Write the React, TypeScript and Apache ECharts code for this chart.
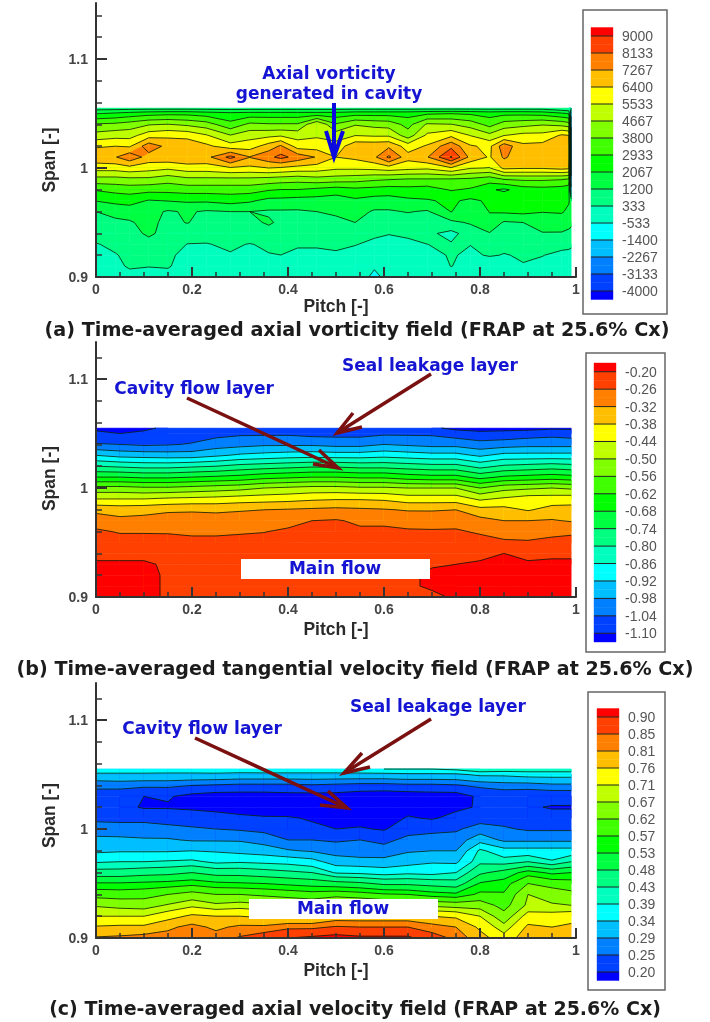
import React, { useEffect, useRef } from "react";
import * as echarts from "echarts";

const spans = [1.055, 1.05, 1.04, 1.03, 1.02, 1.01, 1.0, 0.99, 0.98, 0.97, 0.96, 0.95, 0.94, 0.93, 0.92, 0.91, 0.9];
const palette = ["#0000ff", "#0040ff", "#0080ff", "#00bfff", "#00ffff", "#00ffbf", "#00ff80", "#00ff40", "#00ff00", "#40ff00", "#80ff00", "#bfff00", "#ffff00", "#ffbf00", "#ff8000", "#ff4000", "#ff0000"];
const spanMajorTicks = [0.9, 1, 1.1];
const spanMinorTicks = [0.92, 0.94, 0.96, 0.98, 1.02, 1.04, 1.06, 1.08, 1.12, 1.14];

const vorticityLabels = ["9000", "8133", "7267", "6400", "5533", "4667", "3800", "2933", "2067", "1200", "333", "-533", "-1400", "-2267", "-3133", "-4000"];
const tangentialLabels = ["-0.20", "-0.26", "-0.32", "-0.38", "-0.44", "-0.50", "-0.56", "-0.62", "-0.68", "-0.74", "-0.80", "-0.86", "-0.92", "-0.98", "-1.04", "-1.10"];
const axialLabels = ["0.90", "0.85", "0.81", "0.76", "0.71", "0.67", "0.62", "0.57", "0.53", "0.48", "0.43", "0.39", "0.34", "0.29", "0.25", "0.20"];

const vorticityPitch = [0, 0.04, 0.07, 0.11, 0.15, 0.19, 0.23, 0.28, 0.32, 0.36, 0.385, 0.42, 0.46, 0.5, 0.54, 0.58, 0.61, 0.65, 0.69, 0.74, 0.78, 0.82, 0.85, 0.89, 0.93, 0.97, 0.985, 0.99];
const vorticityColumns = [
  [800, 2000, 3900, 5000, 6300, 7000, 5900, 4400, 3000, 2100, 1200, 900, 600, 300, 200, 100, 100],
  [800, 2200, 4000, 5200, 6400, 7200, 5900, 4400, 3200, 2300, 1500, 1000, 700, 450, 300, 200, 150],
  [800, 2400, 4200, 5200, 6300, 7900, 6100, 4500, 3300, 2400, 1600, 1100, 800, 500, 450, 400, 150],
  [800, 2600, 4600, 6000, 7800, 6900, 5900, 4500, 3200, 2000, 1500, 1500, 1400, 800, 450, 350, 150],
  [800, 2700, 4700, 6200, 7000, 7000, 5700, 4200, 3200, 2100, 1100, 900, 800, 600, 450, 380, 150],
  [800, 2700, 4500, 6100, 7000, 7100, 6000, 4500, 3300, 2200, 1300, 1250, 600, 320, 150, 100, 50],
  [800, 2500, 4200, 5600, 6600, 7000, 6000, 4500, 3300, 2200, 1100, 800, 600, 300, 150, 100, 50],
  [800, 2300, 3200, 4700, 5900, 8400, 6300, 4500, 3300, 2400, 1200, 1000, 800, 450, 280, 150, 50],
  [800, 2400, 4000, 5200, 6000, 7300, 6200, 4500, 3300, 2200, 1200, 1000, 800, 300, 150, 100, 50],
  [800, 2400, 3900, 5300, 6800, 7900, 6400, 4400, 3000, 1800, 1100, 1300, 900, 450, 300, 100, 50],
  [800, 2400, 3900, 5400, 7400, 8400, 6300, 4300, 2900, 1800, 1100, 1050, 800, 500, 330, 100, 50],
  [800, 2400, 3900, 5200, 6000, 7800, 6100, 4200, 2900, 1700, 1100, 1000, 800, 400, 200, 100, 50],
  [800, 2400, 5500, 5400, 6000, 7200, 6000, 4400, 2700, 1700, 1200, 1000, 900, 400, 200, 100, 50],
  [800, 2400, 3900, 5100, 5900, 6400, 5700, 4300, 2500, 1600, 1300, 1050, 900, 450, 250, 100, 50],
  [800, 2600, 4600, 5500, 7000, 6600, 5700, 4200, 2700, 1900, 1500, 1200, 900, 350, 200, 100, 100],
  [800, 2600, 4400, 5400, 7000, 7100, 5800, 4000, 2600, 1700, 1100, 800, 400, 250, 0, -400, -800],
  [800, 2600, 4300, 5400, 7100, 8300, 6000, 3900, 2500, 1700, 1100, 800, 350, 200, 50, -100, -200],
  [800, 2600, 3500, 4200, 6000, 6700, 5800, 3800, 2600, 1900, 1250, 750, 400, 250, 100, 50, 0],
  [800, 2800, 4800, 5700, 6500, 7200, 5700, 3800, 2500, 2000, 1100, 800, 500, 330, 100, -100, -200],
  [800, 2900, 4700, 6200, 7900, 9100, 6300, 3800, 3000, 2200, 2100, 1000, 100, 400, 400, 350, 50],
  [800, 2800, 4300, 5500, 6500, 7000, 5600, 3700, 2800, 1900, 1300, 1300, 700, 350, 200, 100, -200],
  [800, 2600, 3500, 4900, 6200, 6300, 5500, 3400, 2200, 2200, 2100, 1800, 1150, 500, 400, -200, -500],
  [800, 2700, 4200, 5500, 7800, 7400, 6600, 3900, 1900, 2900, 2200, 1100, 1100, 500, 300, -100, -300],
  [800, 2700, 4400, 5800, 6600, 6700, 6500, 4000, 2500, 2500, 2300, 1200, 900, 550, 400, 300, 100],
  [800, 2600, 4600, 5800, 6700, 6800, 6500, 4000, 2600, 2900, 2100, 1600, 1150, 500, 350, 200, 100],
  [500, 2200, 4400, 6500, 7000, 7100, 6700, 3900, 2500, 2200, 2100, 1900, 1100, 500, 200, 250, 100],
  [400, 2000, 4200, 6400, 7000, 7100, 6600, 3800, 2300, 2100, 2000, 1500, 1000, 450, 200, 280, 100],
  [400, -2000, -3000, -3500, -3500, -3500, -3500, -3000, -2000, 1900, 1800, 1400, 900, 400, 200, 250, 100],
];

const velocityPitch = [0, 0.05, 0.1, 0.15, 0.2, 0.25, 0.3, 0.35, 0.4, 0.45, 0.5, 0.55, 0.6, 0.65, 0.7, 0.75, 0.8, 0.85, 0.9, 0.95, 0.99];
const tangentialColumns = [
  [-1.11, -1.09, -1.035, -0.92, -0.8, -0.68, -0.54, -0.44, -0.335, -0.29, -0.25, -0.235, -0.21, -0.195, -0.19, -0.19, -0.19],
  [-1.12, -1.1, -1.04, -0.94, -0.81, -0.68, -0.54, -0.44, -0.345, -0.305, -0.265, -0.235, -0.21, -0.195, -0.19, -0.19, -0.19],
  [-1.11, -1.09, -1.05, -0.945, -0.82, -0.69, -0.55, -0.44, -0.34, -0.3, -0.265, -0.235, -0.21, -0.195, -0.19, -0.19, -0.19],
  [-1.09, -1.08, -1.045, -0.95, -0.82, -0.69, -0.55, -0.43, -0.33, -0.29, -0.265, -0.24, -0.215, -0.205, -0.205, -0.205, -0.205],
  [-1.08, -1.07, -1.035, -0.95, -0.81, -0.68, -0.54, -0.425, -0.325, -0.3, -0.27, -0.245, -0.22, -0.215, -0.215, -0.215, -0.215],
  [-1.08, -1.06, -1.01, -0.93, -0.8, -0.67, -0.53, -0.42, -0.33, -0.295, -0.27, -0.245, -0.225, -0.215, -0.215, -0.215, -0.215],
  [-1.07, -1.05, -1.0, -0.91, -0.78, -0.66, -0.52, -0.41, -0.325, -0.29, -0.265, -0.245, -0.225, -0.215, -0.215, -0.215, -0.215],
  [-1.07, -1.05, -0.99, -0.9, -0.77, -0.64, -0.5, -0.405, -0.32, -0.285, -0.262, -0.24, -0.225, -0.215, -0.215, -0.215, -0.215],
  [-1.07, -1.05, -0.99, -0.89, -0.76, -0.63, -0.49, -0.4, -0.315, -0.28, -0.25, -0.235, -0.22, -0.21, -0.21, -0.21, -0.21],
  [-1.08, -1.06, -0.99, -0.885, -0.75, -0.62, -0.48, -0.39, -0.31, -0.26, -0.24, -0.23, -0.22, -0.21, -0.21, -0.21, -0.21],
  [-1.08, -1.06, -1.0, -0.89, -0.75, -0.62, -0.48, -0.385, -0.305, -0.255, -0.245, -0.23, -0.22, -0.21, -0.21, -0.21, -0.21],
  [-1.07, -1.06, -1.0, -0.89, -0.76, -0.63, -0.49, -0.385, -0.31, -0.27, -0.25, -0.23, -0.22, -0.21, -0.21, -0.21, -0.21],
  [-1.06, -1.05, -0.98, -0.88, -0.76, -0.63, -0.49, -0.39, -0.315, -0.27, -0.25, -0.23, -0.22, -0.21, -0.21, -0.21, -0.21],
  [-1.07, -1.05, -0.99, -0.89, -0.77, -0.65, -0.5, -0.41, -0.325, -0.275, -0.255, -0.23, -0.22, -0.21, -0.21, -0.21, -0.21],
  [-1.09, -1.05, -1.0, -0.9, -0.78, -0.66, -0.5, -0.41, -0.325, -0.28, -0.255, -0.235, -0.22, -0.205, -0.19, -0.19, -0.215],
  [-1.115, -1.07, -1.0, -0.9, -0.78, -0.66, -0.5, -0.41, -0.32, -0.275, -0.255, -0.235, -0.22, -0.2, -0.19, -0.19, -0.19],
  [-1.13, -1.08, -1.02, -0.93, -0.82, -0.7, -0.56, -0.45, -0.36, -0.3, -0.265, -0.245, -0.21, -0.195, -0.19, -0.19, -0.19],
  [-1.12, -1.08, -1.01, -0.9, -0.79, -0.67, -0.52, -0.43, -0.36, -0.32, -0.285, -0.25, -0.2, -0.185, -0.19, -0.19, -0.19],
  [-1.12, -1.07, -1.0, -0.9, -0.78, -0.66, -0.51, -0.41, -0.385, -0.32, -0.28, -0.255, -0.21, -0.195, -0.19, -0.19, -0.19],
  [-1.11, -1.06, -1.0, -0.9, -0.77, -0.65, -0.5, -0.41, -0.36, -0.315, -0.27, -0.25, -0.205, -0.195, -0.19, -0.19, -0.19],
  [-1.11, -1.07, -1.0, -0.9, -0.78, -0.66, -0.51, -0.405, -0.36, -0.325, -0.265, -0.25, -0.205, -0.195, -0.19, -0.19, -0.19],
];

const axialColumns = [
  [0.37, 0.33, 0.26, 0.23, 0.225, 0.24, 0.27, 0.3, 0.33, 0.385, 0.45, 0.535, 0.6, 0.665, 0.71, 0.765, 0.815],
  [0.37, 0.33, 0.265, 0.22, 0.215, 0.24, 0.265, 0.3, 0.335, 0.39, 0.45, 0.535, 0.595, 0.655, 0.71, 0.77, 0.82],
  [0.37, 0.33, 0.26, 0.2, 0.195, 0.24, 0.265, 0.295, 0.335, 0.39, 0.46, 0.54, 0.6, 0.65, 0.71, 0.77, 0.83],
  [0.365, 0.33, 0.26, 0.205, 0.195, 0.235, 0.26, 0.295, 0.335, 0.395, 0.465, 0.545, 0.62, 0.675, 0.74, 0.8, 0.83],
  [0.365, 0.33, 0.25, 0.185, 0.19, 0.23, 0.255, 0.285, 0.34, 0.4, 0.48, 0.555, 0.64, 0.7, 0.77, 0.825, 0.84],
  [0.37, 0.33, 0.245, 0.175, 0.185, 0.22, 0.25, 0.285, 0.335, 0.38, 0.46, 0.54, 0.62, 0.68, 0.76, 0.8, 0.83],
  [0.37, 0.325, 0.24, 0.175, 0.18, 0.21, 0.245, 0.285, 0.325, 0.385, 0.46, 0.535, 0.62, 0.69, 0.76, 0.82, 0.855],
  [0.375, 0.325, 0.24, 0.175, 0.175, 0.205, 0.24, 0.27, 0.315, 0.38, 0.45, 0.53, 0.61, 0.68, 0.75, 0.82, 0.88],
  [0.375, 0.325, 0.24, 0.18, 0.17, 0.205, 0.23, 0.25, 0.295, 0.375, 0.44, 0.52, 0.6, 0.67, 0.75, 0.84, 0.9],
  [0.375, 0.325, 0.245, 0.18, 0.17, 0.195, 0.21, 0.25, 0.285, 0.36, 0.43, 0.51, 0.59, 0.66, 0.75, 0.84, 0.91],
  [0.375, 0.325, 0.24, 0.18, 0.165, 0.185, 0.2, 0.245, 0.27, 0.315, 0.385, 0.5, 0.6, 0.69, 0.78, 0.855, 0.92],
  [0.38, 0.325, 0.235, 0.17, 0.165, 0.18, 0.205, 0.25, 0.26, 0.31, 0.38, 0.49, 0.59, 0.68, 0.78, 0.85, 0.91],
  [0.39, 0.325, 0.235, 0.165, 0.165, 0.175, 0.195, 0.24, 0.265, 0.305, 0.37, 0.47, 0.575, 0.67, 0.78, 0.85, 0.91],
  [0.39, 0.33, 0.24, 0.17, 0.18, 0.205, 0.235, 0.26, 0.285, 0.32, 0.38, 0.47, 0.57, 0.67, 0.78, 0.85, 0.91],
  [0.39, 0.33, 0.24, 0.175, 0.175, 0.195, 0.24, 0.265, 0.29, 0.335, 0.375, 0.46, 0.55, 0.66, 0.76, 0.83, 0.87],
  [0.4, 0.33, 0.245, 0.175, 0.19, 0.215, 0.245, 0.265, 0.29, 0.33, 0.39, 0.45, 0.54, 0.65, 0.75, 0.81, 0.84],
  [0.43, 0.35, 0.26, 0.21, 0.205, 0.235, 0.265, 0.32, 0.4, 0.42, 0.47, 0.535, 0.58, 0.65, 0.71, 0.75, 0.78],
  [0.42, 0.35, 0.27, 0.22, 0.2, 0.235, 0.255, 0.28, 0.36, 0.41, 0.5, 0.55, 0.575, 0.6, 0.64, 0.685, 0.73],
  [0.42, 0.36, 0.27, 0.215, 0.205, 0.22, 0.245, 0.28, 0.36, 0.43, 0.55, 0.62, 0.67, 0.68, 0.73, 0.77, 0.79],
  [0.42, 0.36, 0.28, 0.215, 0.197, 0.215, 0.245, 0.28, 0.36, 0.395, 0.52, 0.6, 0.65, 0.675, 0.73, 0.76, 0.78],
  [0.42, 0.36, 0.28, 0.215, 0.197, 0.215, 0.245, 0.28, 0.36, 0.43, 0.53, 0.59, 0.635, 0.67, 0.74, 0.77, 0.79],
];

const AXIS_FONT = "'Liberation Sans', Arial, sans-serif";
const TITLE_FONT = "'DejaVu Sans', Verdana, sans-serif";
const BLUE = "#1414d2";
const DARK_RED = "#7a1010";

type Panel = {
  pitch: number[]; columns: number[][]; labels: string[];
  top: number; bottom: number; yMax: number; namePad: number; pitchGap: number;
  legend: { left: number; width: number; top: number; height: number };
  frame: number[];
};

const panels: Panel[] = [
  { pitch: vorticityPitch, columns: vorticityColumns, labels: vorticityLabels, top: 3, bottom: 277, yMax: 1.1514, namePad: 40, pitchGap: 19, legend: { left: 591, width: 22, top: 27.5, height: 272 }, frame: [583, 10, 84, 304] },
  { pitch: velocityPitch, columns: tangentialColumns, labels: tangentialLabels, top: 342, bottom: 597, yMax: 1.134, namePad: 18, pitchGap: 23, legend: { left: 594, width: 22, top: 363, height: 279 }, frame: [586, 353, 79, 299] },
  { pitch: velocityPitch, columns: axialColumns, labels: axialLabels, top: 683, bottom: 938, yMax: 1.134, namePad: 10, pitchGap: 23, legend: { left: 597, width: 22, top: 708.5, height: 272 }, frame: [588, 692, 77, 298] },
];

function clipAbove(poly: any[], level: number) {
  const out: any[] = [];
  for (let k = 0; k < poly.length; k++) {
    const a = poly[k];
    const b = poly[(k + 1) % poly.length];
    const aIn = a.v >= level;
    const bIn = b.v >= level;
    if (aIn) out.push(a);
    if (aIn !== bIn) {
      const t = (level - a.v) / (b.v - a.v);
      out.push({ x: a.x + t * (b.x - a.x), y: a.y + t * (b.y - a.y), v: level });
    }
  }
  return out;
}

function cellCorners(panel: Panel, api: any) {
  const i = api.value(2);
  const j = api.value(3);
  const spots = [[i, j], [i + 1, j], [i + 1, j + 1], [i, j + 1]];
  return spots.map(([c, r]) => {
    const p = api.coord([panel.pitch[c], spans[r]]);
    return { x: p[0], y: p[1], v: panel.columns[c][r] };
  });
}

function fillRenderer(panel: Panel) {
  const levels = panel.labels.map(Number).reverse();
  return (_: any, api: any) => {
    const poly = cellCorners(panel, api);
    const vals = poly.map((p) => p.v);
    const lo = Math.min(...vals);
    const hi = Math.max(...vals);
    let base = 0;
    levels.forEach((l) => { if (l <= lo) base++; });
    const shape = (pts: any[], color: string) => ({
      type: "polygon",
      silent: true,
      shape: { points: pts.map((p) => [p.x, p.y]) },
      style: { fill: color, stroke: color, lineWidth: 0.5 },
    });
    const children: any[] = [shape(poly, palette[base])];
    levels.forEach((l, k) => {
      if (l > lo && l <= hi) children.push(shape(clipAbove(poly, l), palette[k + 1]));
    });
    return { type: "group", children };
  };
}

function lineRenderer(panel: Panel) {
  const levels = panel.labels.map(Number);
  return (_: any, api: any) => {
    const poly = cellCorners(panel, api);
    const children: any[] = [];
    levels.forEach((l) => {
      const hits: number[][] = [];
      for (let k = 0; k < 4; k++) {
        const a = poly[k];
        const b = poly[(k + 1) % 4];
        if (a.v >= l !== b.v >= l) {
          const t = (l - a.v) / (b.v - a.v);
          hits.push([a.x + t * (b.x - a.x), a.y + t * (b.y - a.y)]);
        }
      }
      for (let h = 0; h + 1 < hits.length; h += 2) {
        children.push({
          type: "line",
          silent: true,
          shape: { x1: hits[h][0], y1: hits[h][1], x2: hits[h + 1][0], y2: hits[h + 1][1] },
          style: { stroke: "rgba(10,30,10,0.8)", lineWidth: 1 },
        });
      }
    });
    return { type: "group", children };
  };
}

function legendRenderer(panel: Panel) {
  const n = panel.labels.length;
  return (params: any, api: any) => {
    const idx = api.value(0);
    const rect = params.coordSys;
    const y = api.coord([0, idx])[1];
    const h = api.size([0, 1])[1] / 2;
    const above = palette[n - idx];
    const below = palette[n - idx - 1];
    const box = (yy: number, fill: string) => ({
      type: "rect", silent: true,
      shape: { x: rect.x, y: yy, width: rect.width, height: h },
      style: { fill, stroke: fill, lineWidth: 0.4 },
    });
    return {
      type: "group",
      children: [
        box(y - h, above),
        box(y, below),
        { type: "line", silent: true, shape: { x1: rect.x, y1: y, x2: rect.x + rect.width, y2: y }, style: { stroke: "#222", lineWidth: 1 } },
      ],
    };
  };
}

function arrow(points: number[][], color: string, width: number) {
  const [tail, tip, h1, h2] = points;
  return [
    { type: "line", z: 50, shape: { x1: tail[0], y1: tail[1], x2: tip[0], y2: tip[1] }, style: { stroke: color, lineWidth: width } },
    { type: "polyline", z: 50, shape: { points: [h1, tip, h2] }, style: { stroke: color, lineWidth: width, fill: "none", lineJoin: "miter" } },
  ];
}

function label(text: string, x: number, y: number, size = 17, fill = BLUE, align = "center") {
  return {
    type: "text", z: 60, x, y,
    style: { text, fill, font: `bold ${size}px ${TITLE_FONT}`, textAlign: align, textVerticalAlign: "middle" },
  };
}

export default function App() {
  const ref = useRef<HTMLDivElement>(null);
  useEffect(() => {
    const chart = echarts.init(ref.current!, undefined, { renderer: "svg" });
    const grid: any[] = [];
    const xAxis: any[] = [];
    const yAxis: any[] = [];
    const series: any[] = [];
    const fmt = (v: number) => String(Math.round(v * 100) / 100);
    panels.forEach((panel, n) => {
      grid.push({ left: 96, width: 480, top: panel.top, height: panel.bottom - panel.top });
      xAxis.push({
        type: "value", gridIndex: n, min: 0, max: 1, interval: 0.2, z: 6,
        name: "Pitch [-]", nameLocation: "middle", nameGap: panel.pitchGap,
        nameTextStyle: { fontFamily: AXIS_FONT, fontWeight: "bold", fontSize: 17.5, color: "#2a2a2a" },
        splitLine: { show: false },
        axisLine: { lineStyle: { color: "#333", width: 2 }, onZero: false },
        axisTick: { inside: true, length: 10, lineStyle: { color: "#333", width: 2 } },
        minorTick: { show: true, splitNumber: 4, length: 5, lineStyle: { color: "#333", width: 1.5 } },
        axisLabel: { margin: 5, fontFamily: AXIS_FONT, fontSize: 14, fontWeight: "bold", color: "#444", formatter: fmt },
      });
      yAxis.push({
        type: "value", gridIndex: n, min: 0.9, max: panel.yMax, interval: 0.1, z: 6,
        name: "Span [-]", nameLocation: "middle", nameGap: 35, nameRotate: 90,
        nameTextStyle: { fontFamily: AXIS_FONT, fontWeight: "bold", fontSize: 17.5, color: "#2a2a2a", padding: [0, panel.namePad, 0, 0] },
        splitLine: { show: false },
        axisLine: { lineStyle: { color: "#333", width: 2 }, onZero: false },
        axisTick: { inside: true, length: 11, customValues: spanMajorTicks, lineStyle: { color: "#333", width: 2 } },
        axisLabel: { margin: 8, customValues: spanMajorTicks, fontFamily: AXIS_FONT, fontSize: 14, fontWeight: "bold", color: "#444", formatter: fmt },
      });
      const cells: number[][] = [];
      for (let i = 0; i + 1 < panel.pitch.length; i++) {
        for (let j = 0; j + 1 < spans.length; j++) cells.push([panel.pitch[i], spans[j], i, j]);
      }
      const common = { type: "custom", xAxisIndex: n, yAxisIndex: n, data: cells, encode: { x: 0, y: 1 }, clip: false, silent: true };
      series.push({ ...common, z: 2, renderItem: fillRenderer(panel) });
      series.push({ ...common, z: 3, renderItem: lineRenderer(panel) });
    });
    panels.forEach((panel, n) => {
      const g = 3 + n;
      grid.push(panel.legend);
      xAxis.push({ type: "value", gridIndex: g, min: 0, max: 1, show: false });
      yAxis.push({
        type: "category", gridIndex: g, data: panel.labels, inverse: true, position: "right",
        axisLine: { show: false }, axisTick: { show: false }, splitLine: { show: false },
        axisLabel: { margin: 9, interval: 0, fontFamily: AXIS_FONT, fontSize: 14, color: "#555" },
      });
      series.push({
        type: "custom", xAxisIndex: g, yAxisIndex: g, silent: true, clip: false,
        data: panel.labels.map((_, i) => [i]), encode: { y: 0 }, z: 2,
        renderItem: legendRenderer(panel),
      });
    });
    panels.forEach((panel, n) => {
      yAxis.push({
        type: "value", gridIndex: n, min: 0.9, max: panel.yMax, position: "left", z: 6,
        splitLine: { show: false }, axisLine: { show: false }, axisLabel: { show: false },
        axisTick: { inside: true, length: 6, customValues: spanMinorTicks, lineStyle: { color: "#333", width: 1.5 } },
      });
    });

    const frames = panels.map((p) => ({
      type: "rect", z: 0,
      shape: { x: p.frame[0], y: p.frame[1], width: p.frame[2], height: p.frame[3] },
      style: { fill: "none", stroke: "#666", lineWidth: 1.5 },
    }));
    const whiteBox = (x: number, y: number, w: number, h: number) => ({
      type: "rect", z: 40, shape: { x, y, width: w, height: h }, style: { fill: "#fff" },
    });

    chart.setOption({
      animation: false,
      backgroundColor: "#fff",
      grid, xAxis, yAxis, series,
      graphic: { elements: [
        ...frames,
        whiteBox(241, 559, 189, 20),
        whiteBox(249, 899, 189, 20),
        label("Axial vorticity", 329, 73),
        label("generated in cavity", 329, 93),
        label("Cavity flow layer", 194, 388),
        label("Seal leakage layer", 430, 365),
        label("Main flow", 335, 568),
        label("Cavity flow layer", 202, 728),
        label("Seal leakage layer", 438, 706),
        label("Main flow", 343, 908),
        label("(a) Time-averaged axial vorticity field (FRAP at 25.6% Cx)", 357, 329, 19.2, "#1c1c1c"),
        label("(b) Time-averaged tangential velocity field (FRAP at 25.6% Cx)", 355, 668, 19.1, "#1c1c1c"),
        label("(c) Time-averaged axial velocity field (FRAP at 25.6% Cx)", 355, 1008, 19, "#1c1c1c"),
        ...arrow([[334, 103], [334, 157], [326, 131], [343, 131]], "#0a0ae0", 4),
        ...arrow([[431, 374], [337, 433], [353, 413], [362, 427]], DARK_RED, 3.5),
        ...arrow([[187, 398], [338, 468], [319, 450], [313, 464]], DARK_RED, 3.5),
        ...arrow([[431, 719], [344, 773], [362, 753], [370, 767]], DARK_RED, 3.5),
        ...arrow([[195, 738], [347, 808], [328, 791], [320, 805]], DARK_RED, 3.5),
      ] },
    });
    return () => chart.dispose();
  }, []);
  return <div ref={ref} style={{ position: "absolute", left: 0, top: 0, width: 710, height: 1022, filter: "blur(0.4px)" }} />;
}
